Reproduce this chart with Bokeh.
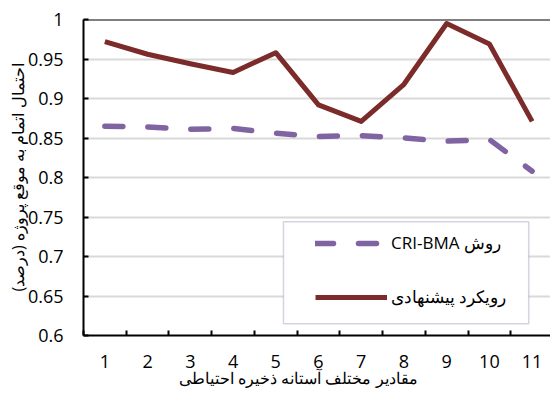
from bokeh.plotting import figure
from bokeh.models import (Range1d, FixedTicker, NumeralTickFormatter, Span,
                          Legend, LegendItem, BoxAnnotation)
from bokeh.embed import file_html
from bokeh.resources import INLINE

# ---- data ----
thresholds = [1, 2, 3, 4, 5, 6, 7, 8, 9, 10, 11]
cri_bma = [0.865, 0.864, 0.861, 0.862, 0.856, 0.852, 0.853, 0.850, 0.846, 0.848, 0.808]
proposed = [0.972, 0.956, 0.944, 0.933, 0.958, 0.892, 0.871, 0.918, 0.995, 0.969, 0.871]
y_ticks = [0.6, 0.65, 0.7, 0.75, 0.8, 0.85, 0.9, 0.95, 1.0]
series_names = ["CRI-BMA روش", "رویکرد پیشنهادی"]
x_title = "مقادیر مختلف آستانه ذخیره احتیاطی"
y_title = "احتمال اتمام به موقع پروژه (درصد)\u200F"

FONT = "Open Sans"
RED = "#7b2c2a"
PURPLE = "#8064a2"

p = figure(width=550, height=397, output_backend="svg", toolbar_location=None,
           x_range=Range1d(0.5, 11.43), y_range=Range1d(0.6, 1.0),
           min_border_left=83, min_border_right=0, min_border_top=19, min_border_bottom=62)
p.outline_line_color = None
p.background_fill_color = "white"
p.border_fill_color = "white"

# grid
p.xgrid.grid_line_color = None
p.ygrid.ticker = FixedTicker(ticks=y_ticks)
p.ygrid.grid_line_color = "#d9d9d9"
p.ygrid.grid_line_width = 2

# x axis
xa = p.xaxis[0]
xa.ticker = FixedTicker(ticks=thresholds, minor_ticks=[t - 0.5 for t in thresholds])
xa.axis_line_color = "black"
xa.axis_line_width = 2
xa.major_tick_in = 0
xa.major_tick_out = 0
xa.minor_tick_in = 5
xa.minor_tick_out = 0
xa.minor_tick_line_color = "black"
xa.minor_tick_line_width = 2
xa.major_label_standoff = 19
xa.major_label_text_font = FONT
xa.major_label_text_font_size = "18px"
xa.major_label_text_color = "black"
xa.axis_label = x_title + "\u00A0" * 9
xa.axis_label_standoff = -4
xa.axis_label_text_font = FONT
xa.axis_label_text_font_size = "16px"
xa.axis_label_text_font_style = "normal"
xa.axis_label_text_color = "black"

# y axis
ya = p.yaxis[0]
ya.ticker = FixedTicker(ticks=y_ticks)
ya.formatter = NumeralTickFormatter(format="0.[00]")
ya.axis_line_color = "black"
ya.axis_line_width = 2
ya.major_tick_in = 5
ya.major_tick_out = 0
ya.major_tick_line_color = "black"
ya.major_tick_line_width = 2
ya.minor_tick_in = 0
ya.minor_tick_out = 0
ya.major_label_standoff = 20
ya.major_label_text_font = FONT
ya.major_label_text_font_size = "18px"
ya.major_label_text_color = "black"
ya.axis_label = y_title
ya.axis_label_standoff = -4
ya.axis_label_text_font = FONT
ya.axis_label_text_font_size = "16px"
ya.axis_label_text_font_style = "normal"
ya.axis_label_text_color = "black"

# top border
p.add_layout(Span(location=1.0, dimension="width", line_color="black", line_width=2))

# series
r_cri = p.line(thresholds, cri_bma, line_color=PURPLE, line_width=5.5,
               line_dash="18 25", line_cap="round")
r_prop = p.line(thresholds, proposed, line_color=RED, line_width=5, line_join="round")

# legend frame
p.add_layout(BoxAnnotation(left=5.18, right=10.92, bottom=0.615, top=0.744,
                           fill_color="white", fill_alpha=1.0,
                           line_color=PURPLE, line_width=1.5))

legend = Legend(items=[LegendItem(label=series_names[0], renderers=[r_cri]),
                       LegendItem(label=series_names[1], renderers=[r_prop])],
                location=(232, 27), padding=0, margin=0, spacing=31,
                glyph_width=72, glyph_height=20, label_height=20, label_standoff=4,
                background_fill_alpha=0, border_line_color=None,
                label_text_font=FONT, label_text_font_size="17px",
                label_text_color="black")
p.add_layout(legend, "center")

open("out.html", "w").write(file_html(p, INLINE))
